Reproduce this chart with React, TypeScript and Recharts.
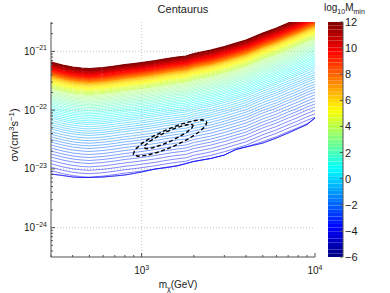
import { LineChart, Line, XAxis, YAxis, ReferenceLine, BarChart, Bar } from "recharts";

// dark matter mass grid (GeV)
const massGeV = [
  300, 350, 400, 450, 500, 600, 700, 800, 900, 1000, 1200, 1400, 1600, 1800, 2000,
  2500, 3000, 3500, 4000, 5000, 6000, 7000, 8000, 9000, 10000,
];

// sigma v (cm^3 s^-1) of the log10 Mmin = 12 contour
const topContour = [
  6.59e-22, 5.86e-22, 5.42e-22, 5.21e-22, 5.11e-22, 5.32e-22, 5.64e-22, 5.98e-22, 6.22e-22,
  6.47e-22, 7.0e-22, 7.57e-22, 8.02e-22, 8.34e-22, 9.2e-22, 1.05e-21, 1.21e-21, 1.39e-21,
  1.56e-21, 2.06e-21, 2.5e-21, 3.04e-21, 3.56e-21, 4.16e-21, 4.68e-21,
];

// lower edge of the filled region
const lowerEdge = [
  8.18e-24, 7.71e-24, 7.27e-24, 7.13e-24, 7.13e-24, 7.27e-24, 7.57e-24, 7.87e-24, 8.34e-24,
  8.85e-24, 9.95e-24, 1.054e-23, 1.12e-23, 1.23e-23, 1.34e-23, 1.5e-23, 1.72e-23, 2.14e-23,
  2.36e-23, 2.75e-23, 3.36e-23, 4.08e-23, 4.87e-23, 5.69e-23, 7.34e-23,
];

// contour levels (log10 Mmin) and how many decades each sits below the top contour
const levels = [
  -4, -3.8, -3.6, -3.4, -3.2, -3, -2.8, -2.6, -2.4, -2.2, -2, -1.8, -1.6, -1.4, -1.2, -1,
  -0.8, -0.6, -0.4, -0.2, 0, 0.2, 0.4, 0.6, 0.8, 1, 1.2, 1.4, 1.6, 1.8, 2, 2.2, 2.4, 2.6,
  2.8, 3, 3.2, 3.4, 3.6, 3.8, 4, 4.2, 4.4, 4.6, 4.8, 5, 5.2, 5.4, 5.6, 5.8, 6, 6.2, 6.4,
  6.6, 6.8, 7, 7.2, 7.4, 7.6, 7.8, 8, 8.2, 8.4, 8.6, 8.8, 9, 9.2, 9.4, 9.6, 9.8, 10, 10.2,
  10.4, 10.6, 10.8, 11, 11.2, 11.4, 11.6, 11.8, 12,
];
const depthDecades = [
  1.906, 1.849, 1.791, 1.733, 1.675, 1.617, 1.566, 1.515, 1.464, 1.413, 1.362, 1.317, 1.273,
  1.229, 1.185, 1.14, 1.103, 1.066, 1.028, 0.991, 0.953, 0.923, 0.892, 0.861, 0.831, 0.8,
  0.773, 0.746, 0.718, 0.691, 0.664, 0.64, 0.616, 0.592, 0.569, 0.545, 0.524, 0.504, 0.483,
  0.463, 0.443, 0.426, 0.409, 0.391, 0.374, 0.357, 0.344, 0.33, 0.317, 0.303, 0.289, 0.279,
  0.269, 0.259, 0.249, 0.238, 0.23, 0.221, 0.213, 0.204, 0.196, 0.187, 0.179, 0.17, 0.162,
  0.153, 0.143, 0.133, 0.123, 0.112, 0.102, 0.092, 0.082, 0.071, 0.061, 0.051, 0.041, 0.031,
  0.02, 0.01, 0,
];

// dashed confidence ellipses, log10 values
const outerLogM = [3.376, 3.369, 3.329, 3.265, 3.186, 3.103, 3.03, 2.976, 2.952, 2.96, 3.0, 3.063, 3.143, 3.226, 3.299, 3.352, 3.376];
const outerLogS = [-22.197, -22.272, -22.377, -22.498, -22.614, -22.709, -22.769, -22.784, -22.752, -22.677, -22.571, -22.451, -22.335, -22.24, -22.18, -22.165, -22.197];
const innerLogM = [3.298, 3.291, 3.265, 3.221, 3.168, 3.113, 3.064, 3.029, 3.013, 3.02, 3.046, 3.09, 3.143, 3.198, 3.247, 3.282, 3.298];
const innerLogS = [-22.255, -22.299, -22.366, -22.446, -22.526, -22.595, -22.641, -22.658, -22.643, -22.599, -22.532, -22.452, -22.372, -22.303, -22.257, -22.24, -22.255];

const xTicks = [300, 400, 500, 600, 700, 800, 900, 1000, 2000, 3000, 4000, 5000, 6000, 7000, 8000, 9000, 10000];
const yTicks = [
  4e-25, 5e-25, 6e-25, 7e-25, 8e-25, 9e-25,
  1e-24, 2e-24, 3e-24, 4e-24, 5e-24, 6e-24, 7e-24, 8e-24, 9e-24,
  1e-23, 2e-23, 3e-23, 4e-23, 5e-23, 6e-23, 7e-23, 8e-23, 9e-23,
  1e-22, 2e-22, 3e-22, 4e-22, 5e-22, 6e-22, 7e-22, 8e-22, 9e-22,
  1e-21, 2e-21, 3e-21,
];
const gridX = [1000];
const gridY = [1e-24, 1e-23, 1e-22, 1e-21];

const colorTicks = [-6, -4, -2, 0, 2, 4, 6, 8, 10, 12];
const cMin = -6;
const cMax = 12;
const nBands = 64;

const X_DOMAIN = [300, 10000];
const Y_DOMAIN = [Math.pow(10, -24.5), Math.pow(10, -20.5)];
const AXIS = "#505050";
const INK = "#1a1a1a";
const FONT = "'Liberation Sans', Arial, Helvetica, sans-serif";

const jet = (t: number) => {
  const c = (v: number) => Math.round(255 * Math.max(0, Math.min(1, v)));
  return `rgb(${c(1.5 - Math.abs(4 * t - 3))},${c(1.5 - Math.abs(4 * t - 2))},${c(1.5 - Math.abs(4 * t - 1))})`;
};
const levelColor = (L: number) => jet((L - cMin) / (cMax - cMin));
// the densely packed upper contours read as a solid band
const levelWidth = (L: number) => (L >= 7 ? 1.1 : L >= 4 ? 0.75 : 0.5);

const contourRows = massGeV.map((m, i) => {
  const row: Record<string, number> = { m, edge: lowerEdge[i] };
  levels.forEach((_, k) => {
    row[`c${k}`] = Math.max(topContour[i] * Math.pow(10, -depthDecades[k]), lowerEdge[i]);
  });
  return row;
});

const outerEllipse = outerLogM.map((lm, i) => ({ m: Math.pow(10, lm), s: Math.pow(10, outerLogS[i]) }));
const innerEllipse = innerLogM.map((lm, i) => ({ m: Math.pow(10, lm), s: Math.pow(10, innerLogS[i]) }));

const bandRow: Record<string, number | string> = { name: "cb" };
for (let i = 0; i < nBands; i++) bandRow[`b${i}`] = (cMax - cMin) / nBands;

const isDecade = (v: number) => Math.abs(Math.log10(v) - Math.round(Math.log10(v))) < 1e-6;
const expLabel = (v: number) => String(Math.round(Math.log10(v))).replace("-", "\u2212");

const BottomTick = ({ x, y, payload }: any) => {
  const major = isDecade(payload.value);
  return (
    <g>
      <line x1={x} y1={y} x2={x} y2={y - (major ? 4 : 2)} stroke={AXIS} />
      {major && (
        <text x={x} y={y + 17} textAnchor="middle" fontSize={10} fill={INK} fontFamily={FONT}>
          10<tspan dy={-4.5} fontSize={7}>{expLabel(payload.value)}</tspan>
        </text>
      )}
    </g>
  );
};

const TopTick = ({ x, y, payload }: any) => (
  <line x1={x} y1={y} x2={x} y2={y + (isDecade(payload.value) ? 4 : 2)} stroke={AXIS} />
);

const LeftTick = ({ x, y, payload }: any) => {
  const major = isDecade(payload.value);
  return (
    <g>
      <line x1={x} y1={y} x2={x + (major ? 4 : 2)} y2={y} stroke={AXIS} />
      {major && (
        <text x={x - 4} y={y + 3.5} textAnchor="end" fontSize={10} fill={INK} fontFamily={FONT}>
          10<tspan dy={-4.5} fontSize={7}>{expLabel(payload.value)}</tspan>
        </text>
      )}
    </g>
  );
};

const RightTick = ({ x, y, payload }: any) => (
  <line x1={x} y1={y} x2={x - (isDecade(payload.value) ? 4 : 2)} y2={y} stroke={AXIS} />
);

const ColorTick = ({ x, y, payload }: any) => (
  <g>
    <line x1={x} y1={y} x2={x - 3} y2={y} stroke={AXIS} />
    <text x={x + 2} y={y + 4} fontSize={11} fill={INK} fontFamily={FONT}>
      {String(payload.value + cMin).replace("-", "\u2212")}
    </text>
  </g>
);

const App = () => {
  return (
    <div style={{ position: "absolute", left: 0, top: 0, width: 390, height: 293, background: "#fff" }}>
      <div style={{ position: "absolute", left: 0, top: 0 }}>
        <LineChart width={390} height={293} data={contourRows} margin={{ top: 22, right: 75, bottom: 0, left: 11 }}>
          <XAxis
            dataKey="m"
            type="number"
            scale="log"
            domain={X_DOMAIN}
            allowDataOverflow
            ticks={xTicks}
            interval={0}
            tickSize={0}
            tickMargin={0}
            tickLine={false}
            tick={(p: any) => <BottomTick {...p} />}
            height={36}
            stroke={AXIS}
          />
          <XAxis
            xAxisId="t"
            orientation="top"
            dataKey="m"
            type="number"
            scale="log"
            domain={X_DOMAIN}
            allowDataOverflow
            ticks={xTicks}
            interval={0}
            tickSize={0}
            tickMargin={0}
            tickLine={false}
            tick={(p: any) => <TopTick {...p} />}
            height={0}
            stroke={AXIS}
          />
          <YAxis
            type="number"
            scale="log"
            domain={Y_DOMAIN}
            allowDataOverflow
            ticks={yTicks}
            interval={0}
            tickSize={0}
            tickMargin={0}
            tickLine={false}
            tick={(p: any) => <LeftTick {...p} />}
            width={40}
            stroke={AXIS}
          />
          <YAxis
            yAxisId="r"
            orientation="right"
            type="number"
            scale="log"
            domain={Y_DOMAIN}
            allowDataOverflow
            ticks={yTicks}
            interval={0}
            tickSize={0}
            tickMargin={0}
            tickLine={false}
            tick={(p: any) => <RightTick {...p} />}
            width={0}
            stroke={AXIS}
          />
          {gridY.map((v) => (
            <ReferenceLine key={`gy${v}`} y={v} stroke="#b8b8b8" strokeDasharray="1 2" strokeWidth={0.8} />
          ))}
          {gridX.map((v) => (
            <ReferenceLine key={`gx${v}`} x={v} stroke="#b8b8b8" strokeDasharray="1 2" strokeWidth={0.8} />
          ))}
          {levels.map((L, k) => (
            <Line
              key={`c${k}`}
              dataKey={`c${k}`}
              stroke={levelColor(L)}
              strokeWidth={levelWidth(L)}
              dot={false}
              activeDot={false}
              isAnimationActive={false}
            />
          ))}
          <Line
            dataKey="edge"
            stroke={levelColor(-4)}
            strokeWidth={0.6}
            dot={false}
            activeDot={false}
            isAnimationActive={false}
          />
          <Line
            data={outerEllipse}
            dataKey="s"
            stroke="#000"
            strokeWidth={1.4}
            strokeDasharray="4 2.5"
            dot={false}
            activeDot={false}
            isAnimationActive={false}
          />
          <Line
            data={innerEllipse}
            dataKey="s"
            stroke="#000"
            strokeWidth={1.4}
            strokeDasharray="4 2.5"
            dot={false}
            activeDot={false}
            isAnimationActive={false}
          />
        </LineChart>
      </div>

      <div style={{ position: "absolute", left: 320, top: 0 }}>
        <BarChart width={70} height={293} data={[bandRow]} margin={{ top: 22, right: 0, bottom: 36, left: 8 }} barCategoryGap={0}>
          <XAxis dataKey="name" tick={false} tickLine={false} height={0} stroke={AXIS} />
          <XAxis xAxisId="t" orientation="top" dataKey="name" tick={false} tickLine={false} height={0} stroke={AXIS} />
          <YAxis yAxisId="l" type="number" domain={[0, cMax - cMin]} tick={false} tickLine={false} width={0} stroke={AXIS} />
          <YAxis
            yAxisId="r"
            orientation="right"
            type="number"
            domain={[0, cMax - cMin]}
            ticks={colorTicks.map((v) => v - cMin)}
            interval={0}
            tickSize={0}
            tickMargin={0}
            tickLine={false}
            tick={(p: any) => <ColorTick {...p} />}
            width={47}
            stroke={AXIS}
          />
          {Array.from({ length: nBands }, (_, i) => (
            <Bar
              key={`b${i}`}
              dataKey={`b${i}`}
              yAxisId="r"
              stackId="cb"
              fill={jet((i + 0.5) / nBands)}
              isAnimationActive={false}
            />
          ))}
        </BarChart>
      </div>

      <svg width={390} height={293} style={{ position: "absolute", left: 0, top: 0, pointerEvents: "none" }} fontFamily={FONT}>
        <text x={183} y={13} textAnchor="middle" fontSize={11} fill={INK}>
          Centaurus
        </text>
        <text x={178} y={287.5} textAnchor="middle" fontSize={10} fill={INK}>
          m<tspan dy={3} fontSize={7}>χ</tspan>
          <tspan dy={-3}>(GeV)</tspan>
        </text>
        <text x={18} y={135} textAnchor="middle" fontSize={11} fill={INK} transform="rotate(-90 18 135)">
          σv(cm<tspan dy={-4.5} fontSize={8}>3</tspan>
          <tspan dy={4.5}>s</tspan>
          <tspan dy={-4.5} fontSize={8}>−1</tspan>
          <tspan dy={4.5}>)</tspan>
        </text>
        <text x={324} y={11} fontSize={10} fill={INK}>
          log<tspan dy={3} fontSize={7}>10</tspan>
          <tspan dy={-3}>M</tspan>
          <tspan dy={3} fontSize={7}>min</tspan>
        </text>
      </svg>
    </div>
  );
};

export default App;
